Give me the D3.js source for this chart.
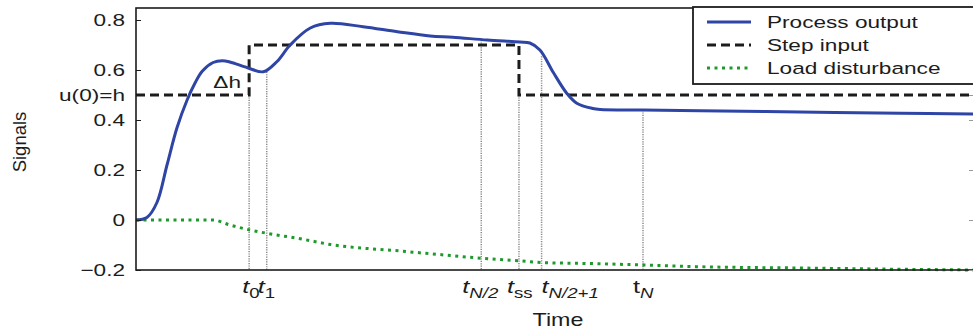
<!DOCTYPE html>
<html>
<head>
<meta charset="utf-8">
<script src="https://cdn.jsdelivr.net/npm/d3@7"></script>
<style>
  body { margin: 0; background: #fff; }
  svg { display: block; font-family: "Liberation Sans", Arial, sans-serif; }
</style>
</head>
<body>
<svg id="chart" width="973" height="328"></svg>
<script>
// values (time is in arbitrary units 0..100)
var outTime  = [0, 1.3, 2.5, 3.7, 4.9, 6.1, 7.0, 7.9, 9.2, 10.3, 11.2, 13.3, 15.2, 16.8, 18.4, 20.8, 23.2, 27.1, 31.2, 35.1, 37.8, 41.9, 45.8, 47.0, 48.2, 49.8, 51.4, 52.6, 54.5, 55.4, 60.5, 67.3, 79.2, 91.2, 100];
var outValue = [0, 0.01, 0.07, 0.22, 0.37, 0.48, 0.545, 0.595, 0.63, 0.637, 0.632, 0.609, 0.593, 0.633, 0.70, 0.768, 0.787, 0.773, 0.753, 0.736, 0.731, 0.72, 0.712, 0.708, 0.68, 0.59, 0.507, 0.467, 0.446, 0.442, 0.44, 0.437, 0.432, 0.427, 0.424];

var distTime  = [0, 9.2, 11.2, 13.6, 15.6, 19.6, 23.2, 31.5, 37.5, 41.2, 45.7, 48.4, 55.4, 60.5, 67.3, 79.2, 91.2, 100];
var distValue = [0, 0, -0.02, -0.04, -0.053, -0.075, -0.098, -0.124, -0.142, -0.153, -0.163, -0.17, -0.175, -0.18, -0.187, -0.192, -0.197, -0.2];

var stepTime  = [0, 13.5, 45.7, 100];
var stepValue = [0.5, 0.7, 0.5, 0.5];

var markerTime = [13.5, 15.6, 41.2, 45.7, 48.4, 60.5];
var markerTop  = [0.5, 0.593, 0.72, 0.5, 0.655, 0.44];
var markerSub  = ["0", "1", "N/2", "ss", "N/2+1", "N"];

var yTicks = [-0.2, 0, 0.2, 0.4, 0.5, 0.6, 0.8];
var legendNames = ["Process output", "Step input", "Load disturbance"];

var SX = 1.33;          // the figure is stretched sideways
var ink = "#1c1c1c";

var svg = d3.select("#chart");

var x = d3.scaleLinear().domain([0, 100]).range([136, 974]);
var y = d3.scaleLinear().domain([-0.2, 0.8]).range([270, 20]);
var frameTop = y(0.848);

function wideText(g, px, py, anchor, size) {
  return g.append("text")
    .attr("transform", "translate(" + px + "," + py + ") scale(" + SX + ",1)")
    .attr("text-anchor", anchor)
    .attr("font-size", size)
    .attr("fill", ink);
}

// marker lines
var labelDx = [-7, -9, -19, -12, 0, -10];
svg.append("g").selectAll("line")
  .data(markerTime)
  .enter().append("line")
  .attr("x1", d => x(d)).attr("x2", d => x(d))
  .attr("y1", (d, i) => y(markerTop[i])).attr("y2", y(-0.2))
  .attr("stroke", "#8a8a8a")
  .attr("stroke-width", 1.5)
  .attr("stroke-dasharray", "1.2,1.2");

var line = d3.line().x(d => x(d[0])).y(d => y(d[1]));

svg.append("path")
  .attr("d", line.curve(d3.curveMonotoneX)(d3.zip(distTime, distValue)))
  .attr("fill", "none")
  .attr("stroke", "#1e9a2c")
  .attr("stroke-width", 3)
  .attr("stroke-dasharray", "3,4.5");

svg.append("path")
  .attr("d", line.curve(d3.curveStepAfter)(d3.zip(stepTime, stepValue)))
  .attr("fill", "none")
  .attr("stroke", ink)
  .attr("stroke-width", 3)
  .attr("stroke-dasharray", "9,5");

svg.append("path")
  .attr("d", line.curve(d3.curveCatmullRom.alpha(0.5))(d3.zip(outTime, outValue)))
  .attr("fill", "none")
  .attr("stroke", "#2f45a5")
  .attr("stroke-width", 3);

// frame
svg.append("rect")
  .attr("x", x(0)).attr("y", frameTop)
  .attr("width", x(100) - x(0)).attr("height", y(-0.2) - frameTop)
  .attr("fill", "none")
  .attr("stroke", ink)
  .attr("stroke-width", 1.6);

var yAxis = svg.append("g")
  .attr("transform", "translate(" + x(0) + ",0)")
  .call(d3.axisLeft(y).tickValues(yTicks).tickSizeInner(-5).tickSizeOuter(0)
    .tickFormat(d => d === 0.5 ? "u(0)=h" : d === 0 ? "0" : d3.format(".1f")(d)));
yAxis.select(".domain").remove();
yAxis.selectAll("line").attr("stroke", ink);
yAxis.selectAll("text")
  .attr("x", -11 / SX)
  .attr("transform", "scale(" + SX + ",1)")
  .attr("font-size", 17)
  .attr("font-family", "Liberation Sans, Arial, sans-serif")
  .attr("fill", ink);

var rAxis = svg.append("g")
  .attr("transform", "translate(" + x(100) + ",0)")
  .call(d3.axisRight(y).tickValues(yTicks).tickSizeInner(-5).tickSizeOuter(0).tickFormat(""));
rAxis.select(".domain").remove();
rAxis.selectAll("line").attr("stroke", "#999");

// delta h note
wideText(svg, 241, 88, "end", 17).text("\u0394h");

// marker labels
markerTime.forEach(function (t, i) {
  var lab = wideText(svg, x(t) + labelDx[i], 293, "start", 19);
  lab.append("tspan").attr("font-style", i === 5 ? "normal" : "italic").text("t");
  lab.append("tspan").attr("dy", 5).attr("font-size", 14)
    .attr("font-style", markerSub[i].indexOf("N") >= 0 ? "italic" : "normal")
    .text(markerSub[i]);
});

// axis titles
wideText(svg, 558, 326, "middle", 17.5).text("Time");
svg.append("text")
  .attr("transform", "translate(26,142) rotate(-90)")
  .attr("text-anchor", "middle")
  .attr("font-size", 18.5)
  .attr("fill", ink)
  .text("Signals");

// legend
var lg = svg.append("g");
lg.append("rect")
  .attr("x", 693).attr("y", 7)
  .attr("width", 300).attr("height", 77)
  .attr("fill", "#fff")
  .attr("stroke", ink)
  .attr("stroke-width", 1.8);
var legendStyle = [
  {c: "#2f45a5", dash: null},
  {c: ink, dash: "9,5"},
  {c: "#1e9a2c", dash: "3,4.5"}
];
legendNames.forEach(function (name, i) {
  var ry = 22 + i * 23;
  lg.append("line")
    .attr("x1", 707).attr("x2", 751)
    .attr("y1", ry).attr("y2", ry)
    .attr("stroke", legendStyle[i].c)
    .attr("stroke-width", 3)
    .attr("stroke-dasharray", legendStyle[i].dash);
  wideText(lg, 767, ry + 6, "start", 17).text(name);
});
</script>
</body>
</html>
